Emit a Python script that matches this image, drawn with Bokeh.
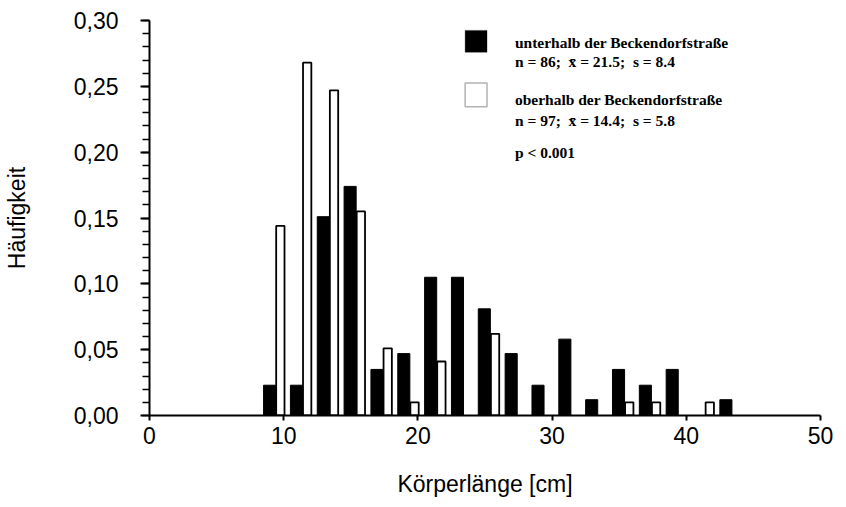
from bokeh.plotting import figure
from bokeh.models import FixedTicker, CustomJSTickFormatter, Label, BoxAnnotation, Range1d, ColumnDataSource
from bokeh.embed import file_html
from bokeh.resources import INLINE

# ---- data ----
bins = [9, 11, 13, 15, 17, 19, 21, 23, 25, 27, 29, 31, 33, 35, 37, 39, 41, 43]
unterhalb = [0.023, 0.023, 0.151, 0.174, 0.035, 0.047, 0.105, 0.105, 0.081, 0.047,
             0.023, 0.058, 0.012, 0.035, 0.023, 0.035, 0.0, 0.012]
oberhalb = [0.144, 0.268, 0.247, 0.155, 0.051, 0.010, 0.041, 0.0, 0.062, 0.0,
            0.0, 0.0, 0.0, 0.010, 0.010, 0.0, 0.010, 0.0]
x_ticks = [0, 10, 20, 30, 40, 50]
y_ticks = [0.0, 0.05, 0.10, 0.15, 0.20, 0.25, 0.30]
y_tick_labels = ["0,00", "0,05", "0,10", "0,15", "0,20", "0,25", "0,30"]
legend_lines = ["unterhalb der Beckendorfstraße",
                "n = 86;\u00a0 x\u0304 = 21.5;\u00a0 s = 8.4",
                "oberhalb der Beckendorfstraße",
                "n = 97;\u00a0 x\u0304 = 14.4;\u00a0 s = 5.8",
                "p < 0.001"]

FONT = "Liberation Sans"
SERIF = "Liberation Serif"

p = figure(width=835, height=499, output_backend="svg", toolbar_location=None,
           x_range=Range1d(0, 50), y_range=Range1d(0, 0.30),
           min_border_left=147, min_border_right=15, min_border_top=20, min_border_bottom=80)
p.background_fill_color = "white"
p.border_fill_color = "white"
p.outline_line_color = None
p.xgrid.visible = False
p.ygrid.visible = False

src_u = ColumnDataSource(dict(x=[b - 0.05 for b, v in zip(bins, unterhalb) if v > 0],
                              top=[v for v in unterhalb if v > 0]))
src_o = ColumnDataSource(dict(x=[b + 0.75 for b, v in zip(bins, oberhalb) if v > 0],
                              top=[v for v in oberhalb if v > 0]))
p.vbar(x="x", top="top", bottom=0, width=0.9, source=src_u,
       fill_color="black", line_color="black", line_width=1)
p.vbar(x="x", top="top", bottom=0, width=0.62, source=src_o,
       fill_color="white", line_color="black", line_width=1.8)

# axes
p.xaxis.ticker = FixedTicker(ticks=x_ticks)
p.yaxis.ticker = FixedTicker(ticks=y_ticks, minor_ticks=[round(i * 0.01, 2) for i in range(31)])
p.yaxis.formatter = CustomJSTickFormatter(args=dict(vals=y_ticks, labs=y_tick_labels), code="""
    let best = 0;
    for (let i = 0; i < vals.length; i++) {
        if (Math.abs(vals[i] - tick) < Math.abs(vals[best] - tick)) best = i;
    }
    return labs[best];
""")
for ax in (p.xaxis, p.yaxis):
    ax.axis_line_width = 2
    ax.axis_line_color = "black"
    ax.major_tick_line_width = 2
    ax.major_tick_line_color = "black"
    ax.major_tick_in = 0
    ax.major_label_text_font = FONT
    ax.major_label_text_font_size = "23px"
    ax.major_label_text_color = "black"
    ax.axis_label_text_font = FONT
    ax.axis_label_text_font_style = "normal"
    ax.axis_label_text_font_size = "23px"
    ax.axis_label_text_color = "black"

p.xaxis.major_tick_out = 5
p.xaxis.minor_tick_line_color = None
p.xaxis.major_label_standoff = 6
p.xaxis.axis_label = "Körperlänge [cm]"
p.xaxis.axis_label_standoff = 24

p.yaxis.major_tick_out = 9
p.yaxis.minor_tick_in = 0
p.yaxis.minor_tick_out = 7
p.yaxis.minor_tick_line_width = 1.5
p.yaxis.minor_tick_line_color = "black"
p.yaxis.major_label_standoff = 22
p.yaxis.axis_label = "Häufigkeit"
p.yaxis.axis_label_standoff = 41

# legend (positions in data units)
p.add_layout(BoxAnnotation(left=23.52, right=25.15, bottom=0.2759, top=0.2925,
                           fill_color="black", fill_alpha=1, line_color="black", line_width=1))
p.add_layout(BoxAnnotation(left=23.52, right=25.15, bottom=0.2344, top=0.2525,
                           fill_color="white", fill_alpha=1, line_color="black", line_width=1.5))
ys = [0.2835, 0.2688, 0.2397, 0.2239, 0.1997]
for txt, yy in zip(legend_lines, ys):
    p.add_layout(Label(x=27.23, y=yy, text=txt, text_font=SERIF, text_font_style="bold",
                       text_font_size="15.5px", text_color="black", text_baseline="alphabetic"))

open("out.html", "w").write(file_html(p, INLINE))
